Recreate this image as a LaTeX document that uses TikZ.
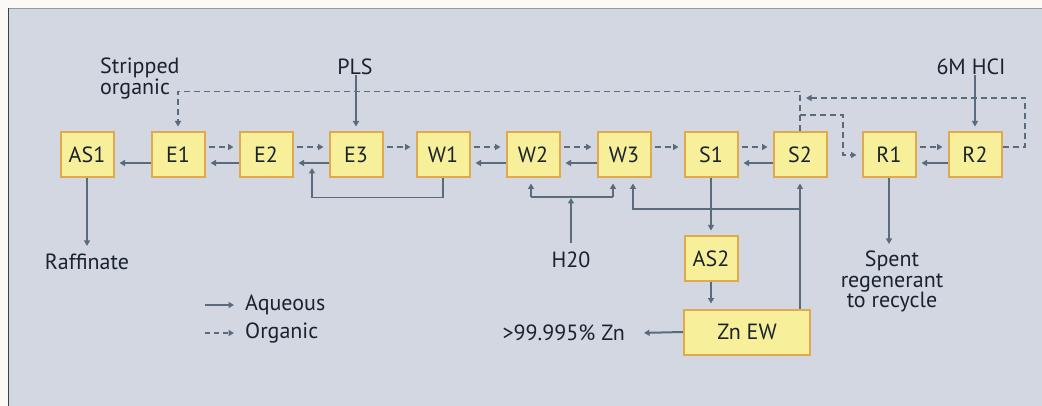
\documentclass[tikz,border=0pt]{standalone}
\usepackage{fontspec}
\setmainfont{PT Sans}
\usetikzlibrary{arrows.meta,calc}
\definecolor{outside}{HTML}{FBF9F6}
\definecolor{panel}{HTML}{D2D7E2}
\definecolor{boxfill}{HTML}{F8EF9B}
\definecolor{boxedge}{HTML}{E0A94E}
\definecolor{flow}{HTML}{5A6B7B}
\definecolor{ink}{HTML}{18232E}
\newcommand{\labelfont}{\fontsize{22}{20.5}\selectfont}
\tikzset{
  tip/.tip={Triangle[length=5.5pt,width=6pt]},
  aq/.style={draw=flow, line width=2pt, -tip, shorten >=5pt},
  aqthin/.style={draw=flow, line width=1.5pt, -tip, shorten >=5pt},
  pipe/.style={draw=flow, line width=1.5pt},
  org/.style={draw=flow, line width=1.8pt, dash pattern=on 6pt off 4pt, -tip, shorten >=5pt},
  stagebox/.style={draw=boxedge, fill=boxfill, line width=2pt, minimum width=53pt,
    minimum height=45pt, inner sep=0pt, text=ink, font=\labelfont},
  lbl/.style={text=ink, font=\labelfont, inner sep=0pt}
}
\begin{document}
\begin{tikzpicture}[x=1pt,y=-1pt]
  % page and panel
  \useasboundingbox (0,0) rectangle (1042,406);
  \fill[outside] (0,0) rectangle (1042,406);
  \fill[panel] (8,8) rectangle (1042,406);
  \draw[gray!80, line width=1pt] (8,8.5) -- (1042,8.5);
  \draw[black!75, line width=1.6pt] (8.5,8) -- (8.5,406);

  % process stages
  \node[stagebox] (AS1) at (87,155) {AS1};
  \node[stagebox] (E1)  at (178,155) {E1};
  \node[stagebox] (E2)  at (266,155) {E2};
  \node[stagebox] (E3)  at (356,155) {E3};
  \node[stagebox] (W1)  at (443,155) {W1};
  \node[stagebox] (W2)  at (533,155) {W2};
  \node[stagebox] (W3)  at (624,155) {W3};
  \node[stagebox] (S1)  at (711,155) {S1};
  \node[stagebox] (S2)  at (800,155) {S2};
  \node[stagebox] (R1)  at (889,155) {R1};
  \node[stagebox] (R2)  at (975,155) {R2};
  \node[stagebox] (AS2) at (711,259) {AS2};
  \node[stagebox, minimum width=126pt] (ZnEW) at (747,332) {Zn EW};

  % feed and product labels
  \node[lbl, align=left, anchor=north west] (strip) at (100,58) {Stripped\\organic};
  \node[lbl] (PLS) at (355,67) {PLS};
  \node[lbl] (HCl) at (971,67) {6M HCI};
  \node[lbl] (raff) at (87,262) {Raffinate};
  \node[lbl] (H2O) at (571,260) {H20};
  \node[lbl, align=center, anchor=north] (spent) at (892,251) {Spent\\regenerant\\to recycle};
  \node[lbl, anchor=east] (prod) at (625,333) {>99.995\% Zn};

  % legend
  \node[lbl, anchor=west] (legaq) at (245,305) {Aqueous};
  \node[lbl, anchor=west] (legorg) at (245,333) {Organic};
  \draw[aq, line width=1.6pt, shorten >=0pt] ([xshift=-40pt]legaq.west) -- ([xshift=-11pt]legaq.west);
  \draw[org, line width=1.6pt, shorten >=0pt, dash pattern=on 5pt off 4pt] ([xshift=-40pt]legorg.west) -- ([xshift=-11pt]legorg.west);

  % organic advance between neighbouring stages
  \foreach \a/\b in {E1/E2, E2/E3, E3/W1, W1/W2, W2/W3, W3/S1, S1/S2, R1/R2}
    \draw[org, shorten <=3pt] ([yshift=8pt]\a.east) -- ([yshift=8pt]\b.west);

  % aqueous counterflow
  \foreach \a/\b in {E1/AS1, E2/E1, E3/E2, W2/W1, W3/W2, S2/S1, R2/R1}
    \draw[aq] ([yshift=-8pt]\a.west) -- ([yshift=-8pt]\b.east);

  % raffinate and spent regenerant
  \draw[aq, shorten >=8pt] (AS1.south) -- (raff.north -| AS1.south);
  \draw[aq, shorten >=7pt] (R1.south) -- (spent.north -| R1.south);

  % feeds
  \draw[aq] (PLS.south -| E3.north) -- (E3.north);
  \draw[aq] (HCl.south -| R2.north) -- (R2.north);

  % W1 wash return to E2/E3
  \coordinate (w1ret) at (312,168);
  \draw[aqthin, shorten >=0pt] (W1.south) -- ++(0,19) -| (w1ret);

  % water to W2 and W3
  \coordinate (h2oL) at (531,197);
  \coordinate (h2oR) at (613,197);
  \coordinate (h2oM) at (571,197);
  \draw[pipe] (h2oL) -- (h2oR);
  \draw[aqthin] (h2oL) -- (h2oL |- W2.south);
  \draw[aqthin] (h2oR) -- (h2oR |- W3.south);
  \draw[aq, shorten >=1pt, shorten <=9pt] (H2O.north) -- (h2oM);

  % strip liquor to electrowinning and back
  \draw[aq] (S1.south) -- (AS2.north);
  \draw[aq] (AS2.south) -- (AS2.south |- ZnEW.north);
  \draw[aq] (ZnEW.north -| S2.south) -- (S2.south);
  \coordinate (spj) at (800,209);
  \draw[aqthin] (spj) -| ([xshift=9pt]W3.south);
  \draw[aq] (ZnEW.west) -- ([xshift=14pt]prod.east);

  % stripped organic back to E1
  \draw[org] (S2.north) -- ++(0,-40) -| (E1.north);

  % organic bleed through regeneration
  \coordinate (rbr) at (843,115);
  \draw[org, shorten >=0pt] (S2.north |- rbr) -- (rbr) |- ([xshift=-5pt]R1.west);
  \coordinate (rcorner) at (1025,98);
  \coordinate (rret) at (806,98);
  \draw[org, shorten >=0pt] ([yshift=8pt]R2.east) -| (rcorner) -- (rret);
\end{tikzpicture}
\end{document}
